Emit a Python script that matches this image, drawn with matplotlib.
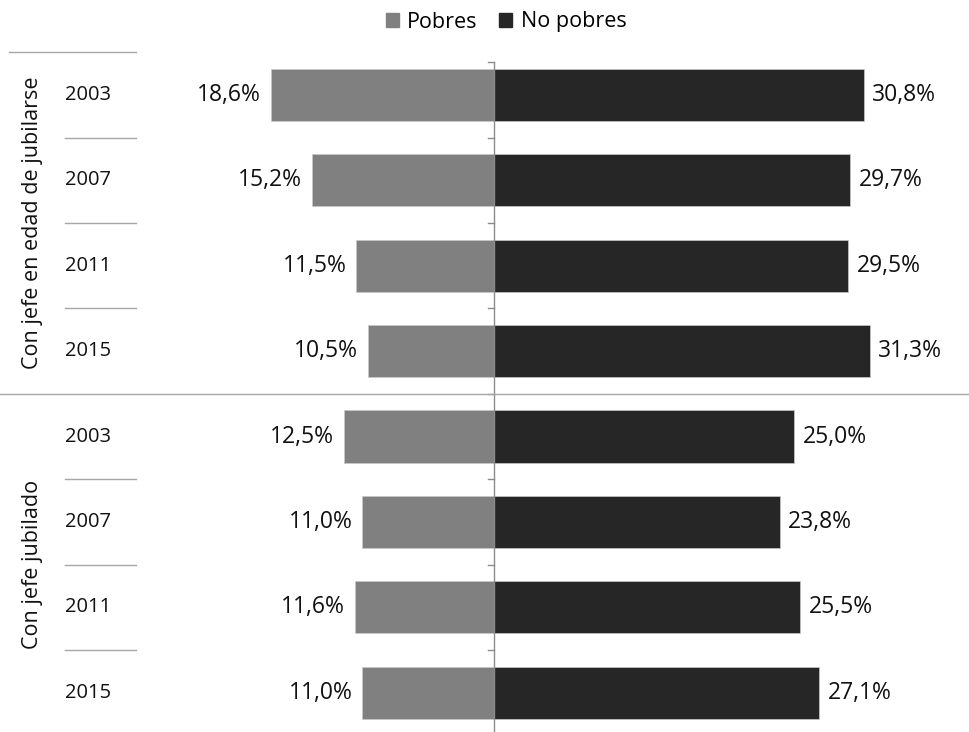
import matplotlib.pyplot as plt
import matplotlib.transforms as mtransforms
from matplotlib.patches import Patch

plt.rcParams['font.family'] = ['Open Sans', 'DejaVu Sans']

# Datos del grafico
grupos = ['Con jefe en edad de jubilarse', 'Con jefe jubilado']
anios = ['2003', '2007', '2011', '2015', '2003', '2007', '2011', '2015']
pobres = [18.6, 15.2, 11.5, 10.5, 12.5, 11.0, 11.6, 11.0]
no_pobres = [30.8, 29.7, 29.5, 31.3, 25.0, 23.8, 25.5, 27.1]

GRIS = '#808080'
NEGRO = '#262626'
TXT = '#111111'

fig = plt.figure(figsize=(9.7, 7.32), dpi=100)
ax = fig.add_axes([0, 0, 1, 1 - 52 / 732])

pos = list(range(len(anios)))
ax.barh(pos, [-p for p in pobres], height=0.61, color=GRIS, edgecolor='#c8c8c8', linewidth=0.5)
ax.barh(pos, no_pobres, height=0.61, color=NEGRO, edgecolor='#c8c8c8', linewidth=0.5)

ax.set_xlim(-494 / 12, (970 - 494) / 12)
ax.set_ylim(7.46, -0.503)
ax.axis('off')

# eje central con marcas entre categorias
ax.axvline(0, ymax=1 - 10 / 680, color='#8c8c8c', lw=1)
marcas = [i - 0.5 for i in range(len(anios))]
marcas[0] = -0.385
for b in marcas:
    ax.plot([-0.5, 0], [b, b], color='#8c8c8c', lw=1)

def fmt(v):
    return f'{v:.1f}%'.replace('.', ',')

for i in pos:
    ax.text(-pobres[i] - 0.8, i, fmt(pobres[i]), ha='right', va='center', fontsize=16.5, color=TXT)
    ax.text(no_pobres[i] + 0.7, i, fmt(no_pobres[i]), ha='left', va='center', fontsize=16.5, color=TXT)

# etiquetas de la izquierda
trans = mtransforms.blended_transform_factory(ax.transAxes, ax.transData)
for i in pos:
    ax.text(65 / 970, i, anios[i], transform=trans, ha='left', va='center', fontsize=14.5, color=TXT)

for b in [-0.5, 0.5, 1.5, 2.5, 4.5, 5.5, 6.5]:
    x0 = 9 / 970 if b == -0.5 else 65 / 970
    ax.plot([x0, 136 / 970], [b, b], transform=trans, color='#a6a6a6', lw=1, clip_on=False)
ax.plot([0, 1], [3.5, 3.5], transform=trans, color='#a6a6a6', lw=1, clip_on=False)

ax.text(33 / 970, 1.5, grupos[0], transform=trans, rotation=90, ha='center', va='center', fontsize=15.5, color=TXT)
ax.text(33 / 970, 5.5, grupos[1], transform=trans, rotation=90, ha='center', va='center', fontsize=15.5, color=TXT)

handles = [Patch(color=GRIS, label='Pobres'), Patch(color=NEGRO, label='No pobres')]
fig.legend(handles=handles, loc='center', bbox_to_anchor=(506 / 970, 1 - 22 / 732), ncol=2, frameon=False,
           fontsize=15.5, handlelength=0.6, handleheight=0.6, handletextpad=0.4, columnspacing=1.0)

fig.savefig('out.png', dpi=100)
